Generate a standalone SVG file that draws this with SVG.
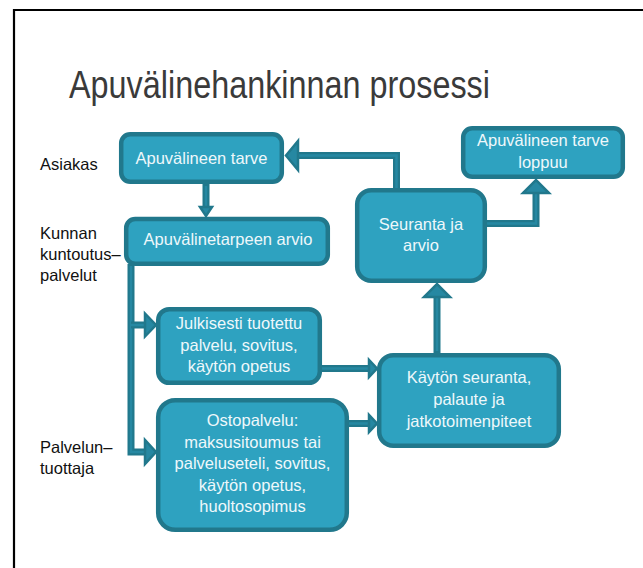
<svg xmlns="http://www.w3.org/2000/svg" width="643" height="568" viewBox="0 0 643 568">
<defs>
<style>
.box{fill:#2ea2c0;stroke:#21788c;stroke-width:4.5}
.bt{font-family:"Liberation Sans",Arial,sans-serif;font-size:16.5px;fill:#eef8fb;text-anchor:middle}
.lab{font-family:"Liberation Sans",Arial,sans-serif;font-size:16.5px;fill:#111}
.ln{fill:none;stroke:#21788c;stroke-width:7;stroke-linejoin:miter}
.lni{fill:none;stroke:#2688a2;stroke-width:2.5;stroke-linejoin:miter}
.ah{fill:#2688a2;stroke:#21788c;stroke-width:2.5;stroke-linejoin:miter}
</style>
</defs>
<rect width="643" height="568" fill="#fff"/>
<path d="M14,568 V10 H643" fill="none" stroke="#000" stroke-width="2.2"/>
<text x="69" y="98" font-family="Liberation Sans,Arial,sans-serif" font-size="38" fill="#3a3a3a" textLength="421" lengthAdjust="spacingAndGlyphs">Apuvälinehankinnan prosessi</text>
<g id="labels">
<text class="lab" x="40" y="170">Asiakas</text>
<text class="lab" x="40" y="239">Kunnan</text>
<text class="lab" x="40" y="260">kuntoutus–</text>
<text class="lab" x="40" y="281">palvelut</text>
<text class="lab" x="40" y="453">Palvelun–</text>
<text class="lab" x="40" y="474">tuottaja</text>
</g>
<g id="connectors">
<path class="ln" d="M206,184 V208"/>
<path class="lni" d="M206,186 V208"/>
<polygon class="ah" points="200,207 212,207 206,216"/>
<path class="ln" d="M396.5,190 V155.5 H297"/>
<path class="lni" d="M396.5,188 V155.5 H297"/>
<polygon class="ah" points="298,141 298,170 286,155.5"/>
<path class="ln" d="M485,223.5 H536 V193"/>
<path class="lni" d="M485,223.5 H536 V193"/>
<polygon class="ah" points="523,193 549,193 536,180"/>
<path class="ln" d="M437,353 V297"/>
<path class="lni" d="M437,351 V297"/>
<polygon class="ah" points="424,297 450,297 437,284"/>
<path class="ln" d="M320,368.5 H369"/>
<path class="lni" d="M320,368.5 H369"/>
<polygon class="ah" points="369,360 369,377 377,368.5"/>
<path class="ln" d="M347,423.5 H369"/>
<path class="lni" d="M347,423.5 H369"/>
<polygon class="ah" points="369,415 369,432 377,423.5"/>
<path class="ln" d="M131,264 V452 H146"/>
<path class="lni" d="M131,266 V452 H146"/>
<path class="ln" d="M131,325 H146"/>
<path class="lni" d="M131,325 H146"/>
<polygon class="ah" points="145,313.5 145,336.5 156,325"/>
<polygon class="ah" points="145,440 145,464 156,452"/>
</g>
<g id="n1"><rect class="box" x="121.2" y="134.2" width="160.6" height="47.6" rx="9"/><text class="bt" x="201.5" y="163.5">Apuvälineen tarve</text></g>
<g id="n2"><rect class="box" x="126.2" y="219" width="201.6" height="44.8" rx="9"/><text class="bt" x="228" y="245">Apuvälinetarpeen arvio</text></g>
<g id="n3"><rect class="box" x="463.2" y="128.2" width="159.6" height="48.6" rx="9"/><text class="bt" x="543" y="146">Apuvälineen tarve</text><text class="bt" x="543" y="167.5">loppuu</text></g>
<g id="n4"><rect class="box" x="357.2" y="190.2" width="127.6" height="90.6" rx="14"/><text class="bt" x="421" y="230">Seuranta ja</text><text class="bt" x="421" y="251">arvio</text></g>
<g id="n5"><rect class="box" x="379.2" y="355.2" width="179.6" height="90.6" rx="14"/><text class="bt" x="469" y="383">Käytön seuranta,</text><text class="bt" x="469" y="404.5">palaute ja</text><text class="bt" x="469" y="426.5">jatkotoimenpiteet</text></g>
<g id="n6"><rect class="box" x="158.2" y="309.2" width="161.6" height="73.6" rx="11"/><text class="bt" x="239" y="329">Julkisesti tuotettu</text><text class="bt" x="239" y="350.5">palvelu, sovitus,</text><text class="bt" x="239" y="372">käytön opetus</text></g>
<g id="n7"><rect class="box" x="158.2" y="400.2" width="188.6" height="129.6" rx="17"/><text class="bt" x="252.5" y="426">Ostopalvelu:</text><text class="bt" x="252.5" y="447.5">maksusitoumus tai</text><text class="bt" x="252.5" y="469">palveluseteli, sovitus,</text><text class="bt" x="252.5" y="490.5">käytön opetus,</text><text class="bt" x="252.5" y="512">huoltosopimus</text></g>
</svg>
